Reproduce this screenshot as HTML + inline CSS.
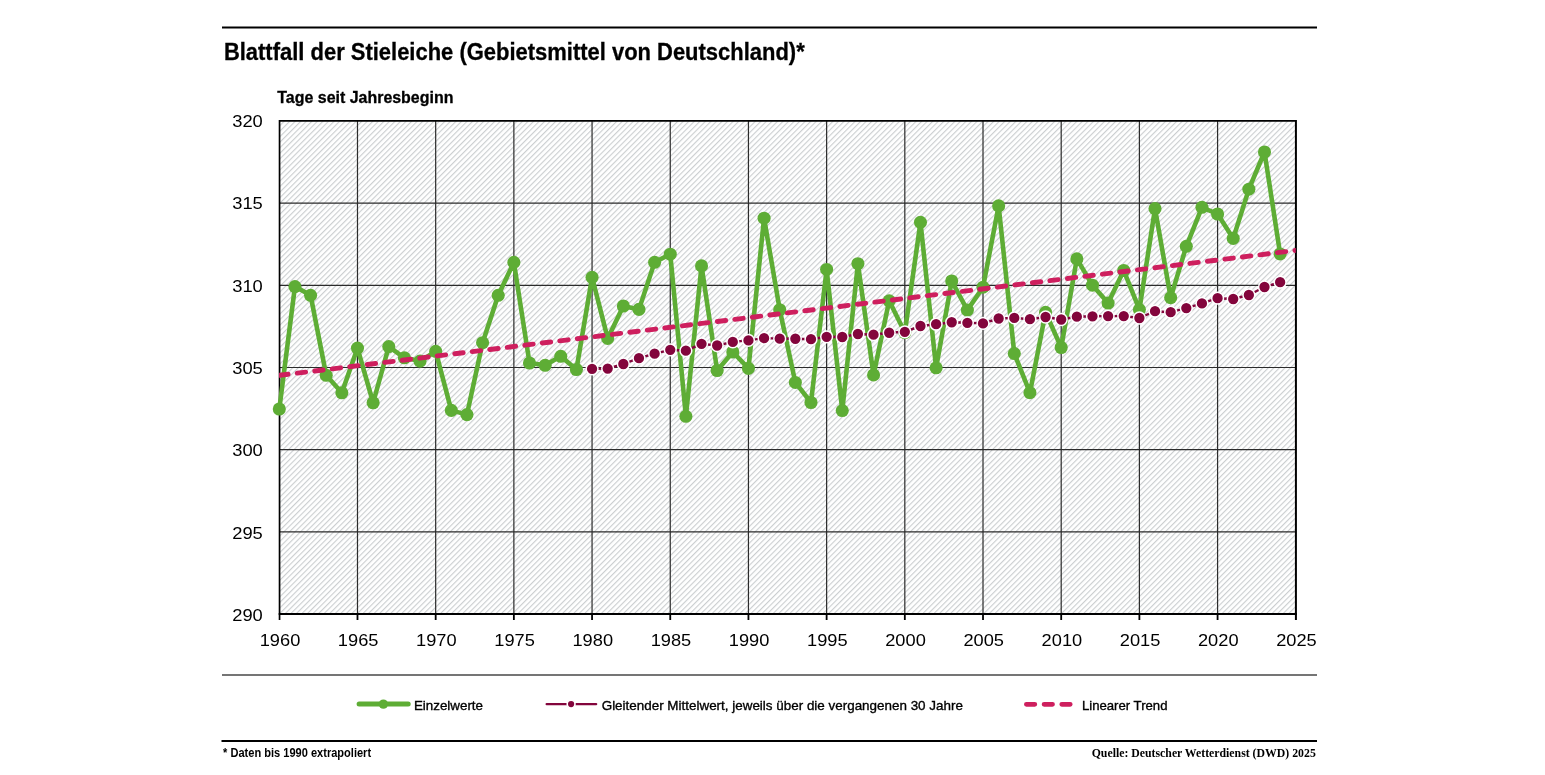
<!DOCTYPE html>
<html lang="de"><head><meta charset="utf-8"><title>Blattfall der Stieleiche</title>
<style>html,body{margin:0;padding:0;background:#fff}svg{display:block}text{font-family:"Liberation Sans",sans-serif;fill:#000}.serif{font-family:"Liberation Serif",serif}.lg{stroke:#000;stroke-width:.35px}.bd{stroke:#000;stroke-width:.3px}</style></head><body>
<svg width="1545" height="775" viewBox="0 0 1545 775">
<defs><pattern id="hatch" patternUnits="userSpaceOnUse" width="3.92" height="3.92" patternTransform="rotate(45)"><rect x="0" y="0" width="1.15" height="3.92" fill="#cbced0"/></pattern></defs>
<rect width="1545" height="775" fill="#fff"/>
<line x1="222" y1="27.5" x2="1317" y2="27.5" stroke="#000" stroke-width="2"/>
<text class="bd" x="223.9" y="59.8" font-size="23.5" font-weight="bold" textLength="580.8" lengthAdjust="spacingAndGlyphs">Blattfall der Stieleiche (Gebietsmittel von Deutschland)*</text>
<text x="277.3" y="102.6" class="bd" font-size="16.5" font-weight="bold" textLength="176.1" lengthAdjust="spacingAndGlyphs">Tage seit Jahresbeginn</text>
<rect x="279.30" y="120.95" width="1016.47" height="493.08" fill="#fff"/>
<rect x="279.30" y="120.95" width="1016.47" height="493.08" fill="url(#hatch)"/>
<path d="M279.30 531.85H1295.77M279.30 449.67H1295.77M279.30 367.49H1295.77M279.30 285.31H1295.77M279.30 203.13H1295.77M357.49 120.95V614.03M435.68 120.95V614.03M513.87 120.95V614.03M592.06 120.95V614.03M670.25 120.95V614.03M748.44 120.95V614.03M826.63 120.95V614.03M904.82 120.95V614.03M983.01 120.95V614.03M1061.20 120.95V614.03M1139.39 120.95V614.03M1217.58 120.95V614.03" stroke="#2b2b2b" stroke-width="1.2" fill="none"/>
<path d="M279.30 120.95H1295.77" stroke="#000" stroke-width="1.8" fill="none"/>
<path d="M279.55 120.05V620.03" stroke="#000" stroke-width="1.7" fill="none"/>
<path d="M1295.92 120.05V620.03" stroke="#000" stroke-width="2" fill="none"/>
<path d="M278.70 614.03H1296.92" stroke="#000" stroke-width="2.1" fill="none"/>
<path d="M357.49 614.03V620.03M435.68 614.03V620.03M513.87 614.03V620.03M592.06 614.03V620.03M670.25 614.03V620.03M748.44 614.03V620.03M826.63 614.03V620.03M904.82 614.03V620.03M983.01 614.03V620.03M1061.20 614.03V620.03M1139.39 614.03V620.03M1217.58 614.03V620.03" stroke="#000" stroke-width="1.8" fill="none"/>
<polyline points="279.30,409.00 294.94,286.60 310.58,295.30 326.21,375.30 341.85,392.80 357.49,348.10 373.13,402.75 388.77,346.60 404.40,357.80 420.04,361.10 435.68,351.40 451.32,410.40 466.96,414.60 482.59,342.70 498.23,295.30 513.87,262.40 529.51,363.00 545.15,365.30 560.78,356.30 576.42,369.50 592.06,277.30 607.70,338.40 623.34,306.00 638.97,309.40 654.61,262.30 670.25,254.20 685.89,416.30 701.53,265.90 717.16,370.50 732.80,352.00 748.44,368.40 764.08,218.20 779.72,309.70 795.35,382.45 810.99,402.50 826.63,269.45 842.27,410.55 857.91,263.70 873.54,374.95 889.18,300.80 904.82,332.50 920.46,222.35 936.10,367.80 951.73,281.00 967.37,310.10 983.01,287.20 998.65,205.90 1014.29,353.55 1029.92,392.70 1045.56,312.40 1061.20,347.50 1076.84,258.90 1092.48,285.20 1108.11,303.10 1123.75,270.50 1139.39,309.60 1155.03,208.60 1170.67,297.70 1186.30,246.30 1201.94,207.30 1217.58,214.00 1233.22,238.40 1248.86,189.20 1264.49,152.00 1280.13,253.95" fill="none" stroke="#5EAD35" stroke-width="4.6" stroke-linejoin="round" stroke-linecap="round"/>
<g fill="#5EAD35"><circle cx="279.30" cy="409.00" r="6.55"/><circle cx="294.94" cy="286.60" r="6.55"/><circle cx="310.58" cy="295.30" r="6.55"/><circle cx="326.21" cy="375.30" r="6.55"/><circle cx="341.85" cy="392.80" r="6.55"/><circle cx="357.49" cy="348.10" r="6.55"/><circle cx="373.13" cy="402.75" r="6.55"/><circle cx="388.77" cy="346.60" r="6.55"/><circle cx="404.40" cy="357.80" r="6.55"/><circle cx="420.04" cy="361.10" r="6.55"/><circle cx="435.68" cy="351.40" r="6.55"/><circle cx="451.32" cy="410.40" r="6.55"/><circle cx="466.96" cy="414.60" r="6.55"/><circle cx="482.59" cy="342.70" r="6.55"/><circle cx="498.23" cy="295.30" r="6.55"/><circle cx="513.87" cy="262.40" r="6.55"/><circle cx="529.51" cy="363.00" r="6.55"/><circle cx="545.15" cy="365.30" r="6.55"/><circle cx="560.78" cy="356.30" r="6.55"/><circle cx="576.42" cy="369.50" r="6.55"/><circle cx="592.06" cy="277.30" r="6.55"/><circle cx="607.70" cy="338.40" r="6.55"/><circle cx="623.34" cy="306.00" r="6.55"/><circle cx="638.97" cy="309.40" r="6.55"/><circle cx="654.61" cy="262.30" r="6.55"/><circle cx="670.25" cy="254.20" r="6.55"/><circle cx="685.89" cy="416.30" r="6.55"/><circle cx="701.53" cy="265.90" r="6.55"/><circle cx="717.16" cy="370.50" r="6.55"/><circle cx="732.80" cy="352.00" r="6.55"/><circle cx="748.44" cy="368.40" r="6.55"/><circle cx="764.08" cy="218.20" r="6.55"/><circle cx="779.72" cy="309.70" r="6.55"/><circle cx="795.35" cy="382.45" r="6.55"/><circle cx="810.99" cy="402.50" r="6.55"/><circle cx="826.63" cy="269.45" r="6.55"/><circle cx="842.27" cy="410.55" r="6.55"/><circle cx="857.91" cy="263.70" r="6.55"/><circle cx="873.54" cy="374.95" r="6.55"/><circle cx="889.18" cy="300.80" r="6.55"/><circle cx="904.82" cy="332.50" r="6.55"/><circle cx="920.46" cy="222.35" r="6.55"/><circle cx="936.10" cy="367.80" r="6.55"/><circle cx="951.73" cy="281.00" r="6.55"/><circle cx="967.37" cy="310.10" r="6.55"/><circle cx="983.01" cy="287.20" r="6.55"/><circle cx="998.65" cy="205.90" r="6.55"/><circle cx="1014.29" cy="353.55" r="6.55"/><circle cx="1029.92" cy="392.70" r="6.55"/><circle cx="1045.56" cy="312.40" r="6.55"/><circle cx="1061.20" cy="347.50" r="6.55"/><circle cx="1076.84" cy="258.90" r="6.55"/><circle cx="1092.48" cy="285.20" r="6.55"/><circle cx="1108.11" cy="303.10" r="6.55"/><circle cx="1123.75" cy="270.50" r="6.55"/><circle cx="1139.39" cy="309.60" r="6.55"/><circle cx="1155.03" cy="208.60" r="6.55"/><circle cx="1170.67" cy="297.70" r="6.55"/><circle cx="1186.30" cy="246.30" r="6.55"/><circle cx="1201.94" cy="207.30" r="6.55"/><circle cx="1217.58" cy="214.00" r="6.55"/><circle cx="1233.22" cy="238.40" r="6.55"/><circle cx="1248.86" cy="189.20" r="6.55"/><circle cx="1264.49" cy="152.00" r="6.55"/><circle cx="1280.13" cy="253.95" r="6.55"/></g>
<polyline points="592.06,368.80 607.70,368.60 623.34,364.00 638.97,358.15 654.61,353.70 670.25,349.80 685.89,350.70 701.53,343.85 717.16,345.50 732.80,341.90 748.44,340.40 764.08,338.15 779.72,338.65 795.35,338.75 810.99,339.20 826.63,336.80 842.27,337.00 857.91,334.00 873.54,334.70 889.18,332.75 904.82,331.80 920.46,326.00 936.10,324.20 951.73,322.25 967.37,322.80 983.01,323.40 998.65,318.50 1014.29,317.90 1029.92,319.20 1045.56,317.00 1061.20,319.50 1076.84,316.70 1092.48,316.30 1108.11,316.10 1123.75,316.10 1139.39,318.00 1155.03,311.20 1170.67,312.20 1186.30,308.10 1201.94,303.40 1217.58,298.20 1233.22,299.00 1248.86,295.00 1264.49,287.00 1280.13,282.20" fill="none" stroke="#83053C" stroke-width="2.4" stroke-linejoin="round"/>
<g fill="#83053C" stroke="#fff" stroke-width="1.5"><circle cx="592.06" cy="368.80" r="5.9"/><circle cx="607.70" cy="368.60" r="5.9"/><circle cx="623.34" cy="364.00" r="5.9"/><circle cx="638.97" cy="358.15" r="5.9"/><circle cx="654.61" cy="353.70" r="5.9"/><circle cx="670.25" cy="349.80" r="5.9"/><circle cx="685.89" cy="350.70" r="5.9"/><circle cx="701.53" cy="343.85" r="5.9"/><circle cx="717.16" cy="345.50" r="5.9"/><circle cx="732.80" cy="341.90" r="5.9"/><circle cx="748.44" cy="340.40" r="5.9"/><circle cx="764.08" cy="338.15" r="5.9"/><circle cx="779.72" cy="338.65" r="5.9"/><circle cx="795.35" cy="338.75" r="5.9"/><circle cx="810.99" cy="339.20" r="5.9"/><circle cx="826.63" cy="336.80" r="5.9"/><circle cx="842.27" cy="337.00" r="5.9"/><circle cx="857.91" cy="334.00" r="5.9"/><circle cx="873.54" cy="334.70" r="5.9"/><circle cx="889.18" cy="332.75" r="5.9"/><circle cx="904.82" cy="331.80" r="5.9"/><circle cx="920.46" cy="326.00" r="5.9"/><circle cx="936.10" cy="324.20" r="5.9"/><circle cx="951.73" cy="322.25" r="5.9"/><circle cx="967.37" cy="322.80" r="5.9"/><circle cx="983.01" cy="323.40" r="5.9"/><circle cx="998.65" cy="318.50" r="5.9"/><circle cx="1014.29" cy="317.90" r="5.9"/><circle cx="1029.92" cy="319.20" r="5.9"/><circle cx="1045.56" cy="317.00" r="5.9"/><circle cx="1061.20" cy="319.50" r="5.9"/><circle cx="1076.84" cy="316.70" r="5.9"/><circle cx="1092.48" cy="316.30" r="5.9"/><circle cx="1108.11" cy="316.10" r="5.9"/><circle cx="1123.75" cy="316.10" r="5.9"/><circle cx="1139.39" cy="318.00" r="5.9"/><circle cx="1155.03" cy="311.20" r="5.9"/><circle cx="1170.67" cy="312.20" r="5.9"/><circle cx="1186.30" cy="308.10" r="5.9"/><circle cx="1201.94" cy="303.40" r="5.9"/><circle cx="1217.58" cy="298.20" r="5.9"/><circle cx="1233.22" cy="299.00" r="5.9"/><circle cx="1248.86" cy="295.00" r="5.9"/><circle cx="1264.49" cy="287.00" r="5.9"/><circle cx="1280.13" cy="282.20" r="5.9"/></g>
<clipPath id="pc"><rect x="279.00" y="120.95" width="1016.77" height="493.08"/></clipPath>
<line clip-path="url(#pc)" x1="279.70" y1="375.3" x2="1315.77" y2="247.94" stroke="#CE1F5E" stroke-width="4.9" stroke-linecap="round" stroke-dasharray="8.5 9.135"/>
<text x="232.20" y="621" font-size="16.8" textLength="30.6" lengthAdjust="spacingAndGlyphs">290</text>
<text x="232.20" y="539" font-size="16.8" textLength="30.6" lengthAdjust="spacingAndGlyphs">295</text>
<text x="232.20" y="456" font-size="16.8" textLength="30.6" lengthAdjust="spacingAndGlyphs">300</text>
<text x="232.20" y="374" font-size="16.8" textLength="30.6" lengthAdjust="spacingAndGlyphs">305</text>
<text x="232.20" y="292" font-size="16.8" textLength="30.6" lengthAdjust="spacingAndGlyphs">310</text>
<text x="232.20" y="209" font-size="16.8" textLength="30.6" lengthAdjust="spacingAndGlyphs">315</text>
<text x="232.20" y="127" font-size="16.8" textLength="30.6" lengthAdjust="spacingAndGlyphs">320</text>
<text x="259.70" y="646.0" font-size="16.5" textLength="40.6" lengthAdjust="spacingAndGlyphs">1960</text>
<text x="337.89" y="646.0" font-size="16.5" textLength="40.6" lengthAdjust="spacingAndGlyphs">1965</text>
<text x="416.08" y="646.0" font-size="16.5" textLength="40.6" lengthAdjust="spacingAndGlyphs">1970</text>
<text x="494.27" y="646.0" font-size="16.5" textLength="40.6" lengthAdjust="spacingAndGlyphs">1975</text>
<text x="572.46" y="646.0" font-size="16.5" textLength="40.6" lengthAdjust="spacingAndGlyphs">1980</text>
<text x="650.65" y="646.0" font-size="16.5" textLength="40.6" lengthAdjust="spacingAndGlyphs">1985</text>
<text x="728.84" y="646.0" font-size="16.5" textLength="40.6" lengthAdjust="spacingAndGlyphs">1990</text>
<text x="807.03" y="646.0" font-size="16.5" textLength="40.6" lengthAdjust="spacingAndGlyphs">1995</text>
<text x="885.22" y="646.0" font-size="16.5" textLength="40.6" lengthAdjust="spacingAndGlyphs">2000</text>
<text x="963.41" y="646.0" font-size="16.5" textLength="40.6" lengthAdjust="spacingAndGlyphs">2005</text>
<text x="1041.60" y="646.0" font-size="16.5" textLength="40.6" lengthAdjust="spacingAndGlyphs">2010</text>
<text x="1119.79" y="646.0" font-size="16.5" textLength="40.6" lengthAdjust="spacingAndGlyphs">2015</text>
<text x="1197.98" y="646.0" font-size="16.5" textLength="40.6" lengthAdjust="spacingAndGlyphs">2020</text>
<text x="1276.17" y="646.0" font-size="16.5" textLength="40.6" lengthAdjust="spacingAndGlyphs">2025</text>
<line x1="222" y1="675" x2="1317" y2="675" stroke="#757575" stroke-width="1.8"/>
<line x1="359.1" y1="704.1" x2="408.2" y2="704.1" stroke="#5EAD35" stroke-width="5" stroke-linecap="round"/><circle cx="383.4" cy="704.1" r="4.7" fill="#5EAD35"/>
<text class="lg" x="413.9" y="710" font-size="13.5" textLength="69.1" lengthAdjust="spacingAndGlyphs">Einzelwerte</text>
<line x1="546.7" y1="704.1" x2="596.1" y2="704.1" stroke="#83053C" stroke-width="2.4" stroke-linecap="round"/><circle cx="571.1" cy="704.1" r="3.9" fill="#83053C" stroke="#fff" stroke-width="1.6"/>
<text class="lg" x="601.7" y="710" font-size="13.5" textLength="361.2" lengthAdjust="spacingAndGlyphs">Gleitender Mittelwert, jeweils über die vergangenen 30 Jahre</text>
<path d="M1026.4 704.3h8.4M1044.1 704.3h8.4M1061.8 704.3h8.4" stroke="#CE1F5E" stroke-width="4.8" stroke-linecap="round" fill="none"/>
<text class="lg" x="1081.9" y="710" font-size="13.5" textLength="85.6" lengthAdjust="spacingAndGlyphs">Linearer Trend</text>
<line x1="221.5" y1="741" x2="1317" y2="741" stroke="#000" stroke-width="2.2"/>
<text x="223.1" y="756.9" font-size="12" font-weight="bold" textLength="148" lengthAdjust="spacingAndGlyphs">* Daten bis 1990 extrapoliert</text>
<text class="serif" x="1091.7" y="756.8" font-size="12.2" font-weight="bold" textLength="224.1" lengthAdjust="spacingAndGlyphs">Quelle: Deutscher Wetterdienst (DWD) 2025</text>
</svg></body></html>
